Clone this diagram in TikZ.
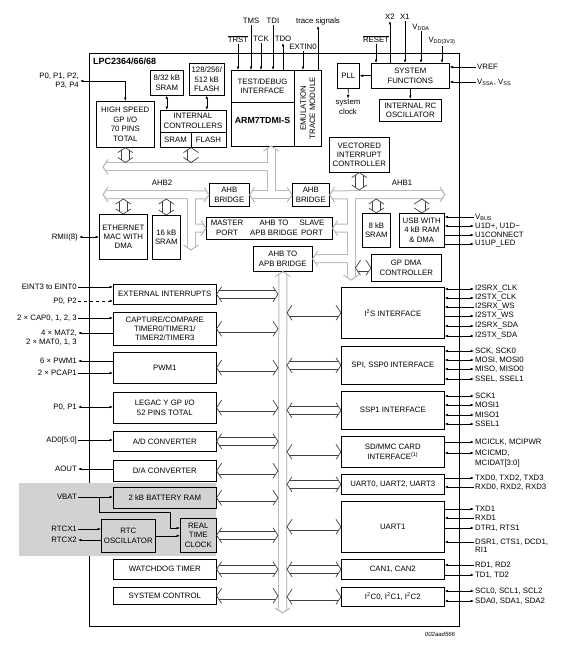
\documentclass[tikz,border=0pt]{standalone}
\usepackage{amsmath}
\usepackage{fontspec}
\setmainfont{Liberation Sans}
\usetikzlibrary{arrows.meta,calc}

% open chevron at #2, opening towards #3
\newcommand{\chev}[3]{\draw[#1] ($(#2)!5pt!(#3)!7.5pt!90:(#3)$) -- (#2) -- ($(#2)!5pt!(#3)!7.5pt!-90:(#3)$);}
% hollow double-headed link between #2 and #3
\newcommand{\link}[3]{\draw[#1, shorten <=2.6pt, shorten >=2.6pt] (#2) -- (#3);
    \chev{#1 tip}{#2}{#3}\chev{#1 tip}{#3}{#2}}

\begin{document}
\begin{tikzpicture}[x=1pt, y=-1pt,
    every node/.style={font=\fontsize{7.8}{9.4}\selectfont, inner sep=1pt, align=center},
    blk/.style={draw, line width=0.6pt, anchor=north west, inner sep=0pt},
    sig/.style={line width=0.6pt, >={Latex[length=3.4pt, width=2.6pt]}},
    busout/.style={draw=gray!55, line width=9pt},
    busin/.style={draw=white, line width=7pt},
    bus tip/.style={draw=gray!55, line width=1pt},
    pbus/.style={draw=black!75, line width=0.7pt, double=white, double distance=7pt},
    pbus tip/.style={draw=black!75, line width=0.7pt}]
    \useasboundingbox (0,0) rectangle (565,652);
    % Chip outline
    \node[blk, minimum width=370pt, minimum height=573pt] (chip) at (89,53) {};
    \node[anchor=north west, font=\bfseries\fontsize{9}{10}\selectfont] (title) at (92,57) {LPC2364/66/68};
    \fill[gray!35] (19,483) rectangle (216,556);
    % Memories and fast GPIO
    \node[blk, minimum width=58pt, minimum height=46pt] (gpio) at (96,101) {HIGH SPEED\\GP I/O\\70 PINS\\TOTAL};
    \node[blk, minimum width=33pt, minimum height=25pt] (sram) at (150,70) {8/32 kB\\SRAM};
    \node[blk, minimum width=35pt, minimum height=32pt] (flash) at (189,63) {128/256/\\512 kB\\FLASH};
    \node[blk, minimum width=66pt, minimum height=37pt] (intctl) at (160,110) {};
    \node (intctltxt) at (193,121) {INTERNAL\\CONTROLLERS};
    \node (ctlsram) at (175.5,140) {SRAM};
    \node (ctlflash) at (208.5,140) {FLASH};
    \coordinate (ctla) at (160,132);
    \coordinate (ctlb) at (226,132);
    \coordinate (ctlc) at (191,132);
    \draw[line width=0.6pt] (ctla) -- (ctlb) (ctlc) -- (ctlc |- intctl.south);
    \draw[sig,<->] (sram.south) -- (sram.south |- intctl.north);
    \draw[sig,<->] (flash.south) -- (flash.south |- intctl.north);
    \node[anchor=east, align=right] (pgpio) at (80,81) {P0, P1, P2,\\P3, P4};
    \draw[sig,<->] (pgpio.east) -| (gpio.north);
    % ARM core
    \node[blk, minimum width=63pt, minimum height=76pt] (arm) at (231,70) {};
    \node[blk, minimum width=27pt, minimum height=76pt] (etm) at (294,70) {};
    \coordinate (arma) at (231,102);
    \draw[line width=0.6pt] (arma) -- (arma -| arm.east);
    \node (dbg) at (262.5,86) {TEST/DEBUG\\INTERFACE};
    \node[font=\bfseries\fontsize{8.8}{10}\selectfont] (core) at (262.5,120) {ARM7TDMI-S};
    \node[rotate=90] (etmtxt) at (etm.center) {EMULATION\\TRACE MODULE};
    \node (trst) at (238,39) {$\overline{\mbox{TRST}}$};
    \node (tms) at (251,21) {TMS};
    \node (tck) at (261,39) {TCK};
    \node (tdi) at (273,21) {TDI};
    \node (tdo) at (283,39) {TDO};
    \node (extin) at (303,47) {EXTIN0};
    \node (trace) at (318,21) {trace signals};
    \foreach \s in {trst,tms,tck,tdi}
        \draw[sig,->] (\s.south) -- (\s.south |- arm.north);
    \draw[sig,->] (tdo.south |- arm.north) -- (tdo.south);
    \draw[sig,->] (extin.south) -- (extin.south |- etm.north);
    \draw[sig,->] (trace.south |- etm.north) -- (trace.south);
    % System functions
    \node[blk, minimum width=22pt, minimum height=25pt] (pll) at (337,63) {PLL};
    \node[blk, minimum width=78pt, minimum height=25pt] (sysfn) at (371,63) {SYSTEM\\FUNCTIONS};
    \node[blk, minimum width=62pt, minimum height=22pt] (rcosc) at (379,99) {INTERNAL RC\\OSCILLATOR};
    \node (sysclk) at (348,107) {system\\clock};
    \draw[sig,->] (sysfn.west) -- (pll.east);
    \draw[sig,->] (pll.south) -- (sysclk.north);
    \draw[sig,->] (sysfn.south) -- (rcosc.north);
    \node (reset) at (376,39) {$\overline{\mbox{RESET}}$};
    \node (xtwo) at (390,17) {X2};
    \node (xone) at (405,17) {X1};
    \node (vdda) at (421,27) {V\textsubscript{DDA}};
    \node (vdd) at (442,41) {V\textsubscript{DD(3V3)}};
    \foreach \s in {reset,xone,vdda,vdd}
        \draw[sig,->] (\s.south) -- (\s.south |- sysfn.north);
    \draw[sig,->] (xtwo.south |- sysfn.north) -- (xtwo.south);
    \node[anchor=west] (vref) at (476,67) {VREF};
    \node[anchor=west] (vss) at (476,82) {V\textsubscript{SSA}, V\textsubscript{SS}};
    \draw[sig,->] (vref.west) -- (vref.west -| sysfn.east);
    \draw[sig,->] (vss.west) -- (vss.west -| sysfn.east);
    % AHB blocks
    \node[blk, minimum width=60pt, minimum height=35pt] (vic) at (329,137) {VECTORED\\INTERRUPT\\CONTROLLER};
    \node[blk, minimum width=40pt, minimum height=23pt] (bridgea) at (209,183) {AHB\\BRIDGE};
    \node[blk, minimum width=37pt, minimum height=23pt] (bridgeb) at (292,183) {AHB\\BRIDGE};
    \node[blk, minimum width=48pt, minimum height=45pt] (eth) at (99,214) {ETHERNET\\MAC WITH\\DMA};
    \node[blk, minimum width=28pt, minimum height=44pt] (sramb) at (152,215) {16 kB\\SRAM};
    \node[blk, minimum width=126pt, minimum height=22pt] (apbm) at (206,217) {};
    \node (mport) at (227,228) {MASTER\\PORT};
    \node (apbmtxt) at (274,228) {AHB TO\\APB BRIDGE};
    \node (sport) at (312,228) {SLAVE\\PORT};
    \node[blk, minimum width=59pt, minimum height=25pt] (apb) at (253,246) {AHB TO\\APB BRIDGE};
    \node[blk, minimum width=28pt, minimum height=34pt] (sramc) at (362,213) {8 kB\\SRAM};
    \node[blk, minimum width=45pt, minimum height=34pt] (usb) at (399,213) {USB WITH\\4 kB RAM\\\& DMA};
    \node[blk, minimum width=70pt, minimum height=27pt] (gpdma) at (371,254) {GP DMA\\CONTROLLER};
    \node (ahbtwo) at (162,183) {AHB2};
    \node (ahbone) at (402,183) {AHB1};
    \node[anchor=east] (rmii) at (79,237) {RMII(8)};
    \draw[sig,<->] (rmii.east) -- (rmii.east -| eth.west);
    % Bus coordinates
    \coordinate (armb) at (271,146);
    \coordinate (armj) at (271,194.5);
    \coordinate (armk) at (271,167);
    \coordinate (arml) at (103,167);
    \coordinate (ahbtwol) at (103,194.5);
    \coordinate (ahbtwot) at (191,194.5);
    \coordinate (ahbtwom) at (191,228);
    \coordinate (ahbtwob) at (191,250);
    \coordinate (ahboner) at (445,194.5);
    \coordinate (ahbonet) at (351,194.5);
    \coordinate (ahbonem) at (351,228);
    \coordinate (ahbonen) at (351,258.5);
    \coordinate (ahboneb) at (351,280);
    \coordinate (apbend) at (282.5,613);
    % Buses: grey edge first, white core after
    \foreach \p in {out,in} {
        \draw[bus\p, shorten <=2.6pt] (armb) -- (armj);
        \draw[bus\p, shorten >=2.6pt] (armk) -- (arml);
        \draw[bus\p, shorten <=2.6pt, shorten >=2.6pt] (bridgea.east) -- (bridgeb.west);
        \draw[bus\p, shorten <=2.6pt, shorten >=2.6pt] (ahbtwol) -- (bridgea.west);
        \draw[bus\p, shorten >=2.6pt] (ahbtwot) -- (ahbtwob);
        \draw[bus\p, shorten >=2.6pt] (ahbtwom) -- (apbm.west);
        \draw[bus\p, shorten <=2.6pt, shorten >=2.6pt] (bridgeb.east) -- (ahboner);
        \draw[bus\p, shorten >=2.6pt] (ahbonet) -- (ahboneb);
        \draw[bus\p, shorten >=2.6pt] (ahbonem) -- (apbm.east);
        \draw[bus\p, shorten >=2.6pt] (ahbonen) -- (apb.east);
        \draw[bus\p, shorten <=2.6pt, shorten >=2.6pt] (apb.south) -- (apbend);
    }
    \foreach \a/\b in {armb/armj, arml/armk, bridgea.east/bridgeb.west, bridgeb.west/bridgea.east,
            ahbtwol/ahbtwot, bridgea.west/ahbtwot, ahbtwob/ahbtwot, apbm.west/ahbtwom,
            bridgeb.east/ahbonet, ahboner/ahbonet, ahboneb/ahbonet, apbm.east/ahbonem,
            apb.east/ahbonen, apb.south/apbend, apbend/apb.south}
        \chev{bus tip}{\a}{\b}
    % Short bus links
    \coordinate (armtop) at (0,162.5);
    \coordinate (ahbbot) at (0,199);
    \coordinate (ahbtop) at (0,190);
    \coordinate (dmaj) at (355.5,0);
    \coordinate (gpiolink) at (gpio.south |- armtop);
    \coordinate (ctllink) at (ctlc |- armtop);
    \coordinate (ctlbot) at (ctlc |- intctl.south);
    \coordinate (ethlink) at (eth.north |- ahbbot);
    \coordinate (sramblink) at (sramb.north |- ahbbot);
    \coordinate (viclink) at (vic.south |- ahbtop);
    \coordinate (sramclink) at (sramc.north |- ahbbot);
    \coordinate (usblink) at (usb.north |- ahbbot);
    \coordinate (dmalink) at (gpdma.west -| dmaj);
    \link{pbus}{gpio.south}{gpiolink}
    \link{pbus}{ctlbot}{ctllink}
    \link{pbus}{ethlink}{eth.north}
    \link{pbus}{sramblink}{sramb.north}
    \link{pbus}{vic.south}{viclink}
    \link{pbus}{sramclink}{sramc.north}
    \link{pbus}{usblink}{usb.north}
    \link{pbus}{dmalink}{gpdma.west}
    % APB peripherals
    \coordinate (apbl) at (278,0);
    \coordinate (apbr) at (287,0);
    \foreach \n/\y/\h/\t in {extint/284/20/{EXTERNAL INTERRUPTS},
            capt/312/33/{CAPTURE/COMPARE\\TIMER0/TIMER1/\\TIMER2/TIMER3},
            pwm/352/31/{PWM1}, legacy/392/31/{LEGAC Y GP I/O\\52 PINS TOTAL},
            adc/431/20/{A/D CONVERTER}, dac/460/21/{D/A CONVERTER},
            batram/487/21/{2 kB BATTERY RAM}, wdt/559/20/{WATCHDOG TIMER},
            sysctl/587/17/{SYSTEM CONTROL}} {
        \node[blk, minimum width=103pt, minimum height=\h pt] (\n) at (113,\y) {\t};
    }
    \node[blk, minimum width=54pt, minimum height=33pt] (rtcosc) at (101,519) {RTC\\OSCILLATOR};
    \node[blk, minimum width=36pt, minimum height=34pt] (rtc) at (180,518) {REAL\\TIME\\CLOCK};
    \foreach \n/\y/\h/\t in {i2s/287/51/{I\textsuperscript{2}S INTERFACE},
            spi/346/38/{SPI, SSP0 INTERFACE}, ssp/391/38/{SSP1 INTERFACE},
            sdmmc/436/31/{SD/MMC CARD\\INTERFACE\textsuperscript{(1)}},
            uarta/474/20/{UART0, UART2, UART3}, uartb/501/51/{UART1},
            can/559/20/{CAN1, CAN2},
            iic/587/19/{I\textsuperscript{2}C0, I\textsuperscript{2}C1, I\textsuperscript{2}C2}} {
        \node[blk, minimum width=103pt, minimum height=\h pt] (\n) at (341,\y) {\t};
    }
    \foreach \n in {extint,capt,pwm,legacy,adc,dac,batram,rtc,wdt,sysctl} {
        \coordinate (\n-bus) at (\n.east -| apbl);
        \link{pbus}{\n.east}{\n-bus}
    }
    \foreach \n in {i2s,spi,ssp,sdmmc,uarta,uartb,can,iic} {
        \coordinate (\n-bus) at (\n.west -| apbr);
        \link{pbus}{\n-bus}{\n.west}
    }
    % Left pins
    \foreach \y/\t/\d/\n in {287/{EINT3 to EINT0}/->/extint, 318/{2 × CAP0, 1, 2, 3}/->/capt,
            333/{4 × MAT2,}/<-/capt, 361/{6 × PWM1}/<-/pwm, 373/{2 × PCAP1}/->/pwm,
            407/{P0, P1}/<->/legacy, 440/{AD0[5:0]}/->/adc, 469/AOUT/<-/dac,
            497/VBAT/->/batram, 529/RTCX1/->/rtcosc, 540/RTCX2/<-/rtcosc} {
        \node[anchor=east] (in\y) at (78,\y) {\t};
        \draw[sig,\d] (in\y.east) -- (in\y.east -| \n.west);
    }
    \node[anchor=east] (pztwo) at (78,301) {P0, P2};
    \draw[sig,->,dashed] (pztwo.east) -- (pztwo.east -| extint.west);
    \node[anchor=east] (mattwo) at (78,342) {2 × MAT0, 1, 3};
    \coordinate (vba) at (99,512);
    \coordinate (vbb) at (170,528);
    \draw[sig,->] (in497.east -| vba) -- (vba) -| (vbb) -- (vbb -| rtc.west);
    \draw[sig,->] (rtcosc.east) -- (rtcosc.east -| rtc.west);
    % Right pins
    \foreach \y/\t/\d/\n in {217/V\textsubscript{BUS}/<-/usb, 226/{U1D+, U1D−}/<->/usb,
            235/U1CONNECT/->/usb, 244/U1UP\_LED/->/usb,
            289/I2SRX\_CLK/<->/i2s, 298/I2STX\_CLK/<->/i2s, 307/I2SRX\_WS/<-/i2s,
            316/I2STX\_WS/->/i2s, 326/I2SRX\_SDA/<->/i2s, 336/I2STX\_SDA/<->/i2s,
            351/{SCK, SCK0}/<->/spi, 360/{MOSI, MOSI0}/<->/spi,
            369/{MISO, MISO0}/<->/spi, 379/{SSEL, SSEL1}/<->/spi,
            396/SCK1/<->/ssp, 405/MOSI1/<->/ssp, 415/MISO1/<->/ssp, 424/SSEL1/<->/ssp,
            442/{MCICLK, MCIPWR}/->/sdmmc, 453/{MCICMD,}/<->/sdmmc,
            478/{TXD0, TXD2, TXD3}/->/uarta, 487/{RXD0, RXD2, RXD3}/<-/uarta,
            509/TXD1/->/uartb, 518/RXD1/<-/uartb, 528/{DTR1, RTS1}/->/uartb,
            542/{DSR1, CTS1, DCD1,}/<-/uartb, 565/{RD1, RD2}/<-/can, 575/{TD1, TD2}/->/can,
            591/{SCL0, SCL1, SCL2}/<->/iic, 601/{SDA0, SDA1, SDA2}/<->/iic} {
        \node[anchor=west] (out\y) at (474,\y) {\t};
        \draw[sig,\d] (out\y.west -| \n.east) -- (out\y.west);
    }
    \node[anchor=west] (mcidat) at (474,463) {MCIDAT[3:0]};
    \node[anchor=west] (rione) at (474,550) {RI1};
    \node[font=\itshape\fontsize{6}{7}\selectfont] (docid) at (440,634) {002aad566};
\end{tikzpicture}
\end{document}
